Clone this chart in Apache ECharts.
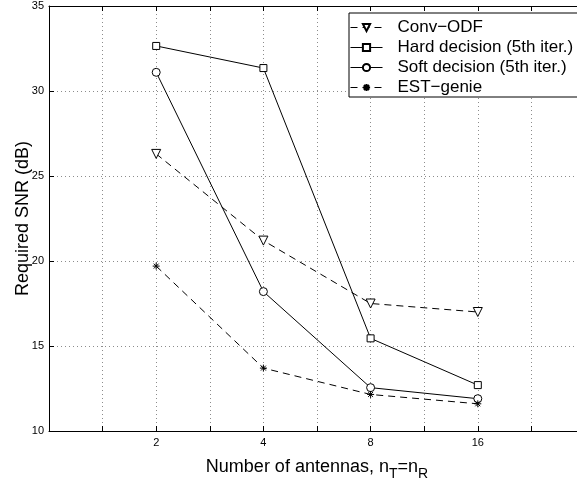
<!DOCTYPE html>
<html>
<head>
<meta charset="utf-8">
<script src="https://cdn.jsdelivr.net/npm/echarts@6/dist/echarts.min.js"></script>
<style>
  html, body { margin: 0; padding: 0; background: #fff; overflow: hidden; }
  /* the plot's right edge (x = 32 antennas) lies just outside the window, as in the source figure */
  #chart { width: 600px; height: 481px; }
</style>
</head>
<body>
<div id="chart"></div>
<script>
// data
var antennas = [2, 4, 8, 16];
var convOdf = [26.3, 21.2, 17.5, 17.0];
var hardDecision = [32.65, 31.35, 15.45, 12.7];
var softDecision = [31.1, 18.2, 12.55, 11.9];
var estGenie = [19.7, 13.7, 12.15, 11.6];
var tickLabels = { 1: '2', 2: '4', 3: '8', 4: '16' };

var FONT = 'Liberation Sans';
// asterisk marker, stroked only
var ASTERISK = 'path://M5,0L5,10M0,5L10,5M1.5,1.5L8.5,8.5M1.5,8.5L8.5,1.5';

function pts(vals) {
  var out = [];
  for (var i = 0; i < antennas.length; i++) {
    out.push([Math.log2(antennas[i]), vals[i]]);
  }
  return out;
}

var myChart = echarts.init(document.getElementById('chart'));
var DOT = '#8c8c8c';
// x grid: 11 lines (0..5 by 0.5); the last one is the off-page frame, keep it invisible
var xDots = { show: true, lineStyle: { color: [DOT, DOT, DOT, DOT, DOT, DOT, DOT, DOT, DOT, DOT, 'rgba(0,0,0,0)'], width: 1, type: [1, 3] } };
var yDots = { show: true, lineStyle: { color: DOT, width: 1, type: [1, 3] } };
var hollow = { color: '#fff', borderColor: '#000', borderWidth: 1 };

var option = {
  animation: false,
  backgroundColor: '#fff',
  textStyle: { fontFamily: FONT },
  grid: { left: 49, top: 6, width: 536, height: 425, containLabel: false, outerBoundsMode: 'none' },
  legend: {
    orient: 'vertical',
    left: 349, top: 13,
    padding: [6, 5, 1, 1],
    backgroundColor: '#fff',
    borderColor: '#000', borderWidth: 1,
    itemWidth: 32, itemHeight: 9, itemGap: 3,
    lineStyle: { width: 1 },
    textStyle: { fontFamily: FONT, fontSize: 17, color: '#000', lineHeight: 17, padding: [0, 0, 0, 10] },
    data: ['Conv\u2212ODF', 'Hard decision (5th iter.)', 'Soft decision (5th iter.)', 'EST\u2212genie']
  },
  xAxis: [{
    type: 'value', min: 0, max: 5, interval: 0.5,
    name: '{t|Number of antennas, n}{s|T}{t|=n}{s|R}',
    nameLocation: 'middle', nameGap: 27,
    nameTextStyle: {
      rich: {
        t: { fontFamily: FONT, fontSize: 18, color: '#000', verticalAlign: 'bottom' },
        s: { fontFamily: FONT, fontSize: 14, color: '#000', verticalAlign: 'bottom', padding: [0, 0, -5, 0] }
      }
    },
    axisLine: { lineStyle: { color: '#000', width: 1 } },
    axisTick: { inside: true, length: 5, lineStyle: { color: '#000' } },
    axisLabel: {
      margin: 6, fontSize: 11, color: '#000', fontFamily: FONT,
      formatter: function (v) { return tickLabels[v] || ''; }
    },
    splitLine: xDots
  }, {
    type: 'value', min: 0, max: 5, interval: 0.5, position: 'top',
    axisLine: { show: true, lineStyle: { color: '#000', width: 1 } },
    axisTick: { show: true, inside: true, length: 5, lineStyle: { color: '#000' } },
    axisLabel: { show: false },
    splitLine: { show: false }
  }],
  yAxis: {
    type: 'value', min: 10, max: 35, interval: 5,
    name: 'Required SNR (dB)',
    nameLocation: 'middle', nameGap: 17, nameMoveOverlap: false,
    nameTextStyle: { fontFamily: FONT, fontSize: 18, color: '#000' },
    axisLine: { show: true, lineStyle: { color: '#000', width: 1 } },
    axisTick: { show: true, inside: true, length: 5, lineStyle: { color: '#000' } },
    axisLabel: { margin: 5, fontSize: 11, color: '#000', fontFamily: FONT },
    splitLine: yDots
  },
  series: [
    {
      name: 'Conv\u2212ODF', type: 'line', data: pts(convOdf),
      symbol: 'triangle', symbolRotate: 180, symbolSize: 9,
      itemStyle: hollow,
      lineStyle: { color: '#000', width: 1, type: [7, 5] }
    },
    {
      name: 'Hard decision (5th iter.)', type: 'line', data: pts(hardDecision),
      symbol: 'rect', symbolSize: 7,
      itemStyle: hollow,
      lineStyle: { color: '#000', width: 1 }
    },
    {
      name: 'Soft decision (5th iter.)', type: 'line', data: pts(softDecision),
      symbol: 'circle', symbolSize: 8,
      itemStyle: hollow,
      lineStyle: { color: '#000', width: 1 }
    },
    {
      name: 'EST\u2212genie', type: 'line', data: pts(estGenie),
      symbol: ASTERISK, symbolSize: 7,
      itemStyle: { color: '#000', borderColor: '#000', borderWidth: 1 },
      lineStyle: { color: '#000', width: 1, type: [7, 5] }
    }
  ]
};
myChart.setOption(option);
</script>
</body>
</html>
